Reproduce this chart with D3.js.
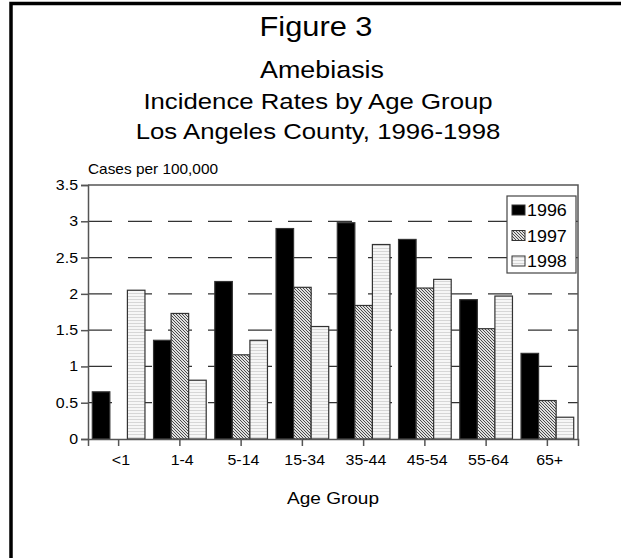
<!DOCTYPE html>
<html>
<head>
<meta charset="utf-8">
<script src="https://cdn.jsdelivr.net/npm/d3@7"></script>
<style>
  html, body { margin: 0; padding: 0; background: #fff; }
  svg { display: block; font-family: "Liberation Sans", Arial, sans-serif; }
</style>
</head>
<body>
<svg id="chart" width="621" height="558"></svg>
<script>
const categories = ["<1", "1-4", "5-14", "15-34", "35-44", "45-54", "55-64", "65+"];
const years = ["1996", "1997", "1998"];
const values1996 = [0.65, 1.36, 2.17, 2.90, 2.98, 2.75, 1.92, 1.18];
const values1997 = [0.00, 1.73, 1.16, 2.09, 1.84, 2.08, 1.52, 0.53];
const values1998 = [2.05, 0.81, 1.36, 1.55, 2.68, 2.20, 1.97, 0.30];
const yTicks = [0, 0.5, 1, 1.5, 2, 2.5, 3, 3.5];
const titleLines = ["Amebiasis", "Incidence Rates by Age Group", "Los Angeles County, 1996-1998"];

const series = [values1996, values1997, values1998];
const svg = d3.select("#chart");
const SX = 1.14; // horizontal text stretch seen in the reference

function label(x, y, txt, size, anchor, sx) {
  return svg.append("text")
    .attr("transform", `translate(${x},${y}) scale(${sx || SX},1)`)
    .attr("text-anchor", anchor || "start")
    .attr("font-size", size).attr("fill", "#000").text(txt);
}

// patterns
const defs = svg.append("defs");
const p1 = defs.append("pattern").attr("id", "hatch").attr("patternUnits", "userSpaceOnUse")
  .attr("width", 3).attr("height", 3);
p1.append("rect").attr("width", 3).attr("height", 3).attr("fill", "#e0e0e0");
p1.append("path").attr("d", "M-1,-1 L4,4 M-1,2 L1,4 M2,-1 L4,1").attr("stroke", "#3a3a3a").attr("stroke-width", 0.9);
const p2 = defs.append("pattern").attr("id", "hlines").attr("patternUnits", "userSpaceOnUse")
  .attr("width", 4).attr("height", 3);
p2.append("rect").attr("width", 4).attr("height", 3).attr("fill", "#f6f6f6");
p2.append("rect").attr("y", 2).attr("width", 4).attr("height", 1).attr("fill", "#d6d6d6");
const fills = ["#000", "url(#hatch)", "url(#hlines)"];

// outer border (top and left visible)
svg.append("rect").attr("x", 11).attr("y", 3.5).attr("width", 640).attr("height", 600)
  .attr("fill", "none").attr("stroke", "#000").attr("stroke-width", 3.5);

// titles
label(316, 36, "Figure 3", 28, "middle", 1.1);
const titleY = [78, 109, 139];
const titleSize = [24, 23, 23];
titleLines.forEach((t, i) => label(i === 0 ? 322 : 318, titleY[i], t, titleSize[i], "middle", 1.12));

const margin = {left: 88, right: 578, top: 185, bottom: 439};
const x0 = d3.scaleBand().domain(categories).range([margin.left, margin.right])
  .paddingInner(0.14).paddingOuter(0.07);
const x1 = d3.scaleBand().domain(years).range([0, x0.bandwidth()]);
const y = d3.scaleLinear().domain([0, 3.5]).range([margin.bottom, margin.top]);

// gridlines
svg.append("g").selectAll("line").data(yTicks.filter(t => t > 0 && t < 3.5)).join("line")
  .attr("x1", margin.left).attr("x2", margin.right)
  .attr("y1", d => y(d)).attr("y2", d => y(d))
  .attr("stroke", "#333").attr("stroke-width", 1.2).attr("stroke-dasharray", "24,16");

// frame top & right
svg.append("path").attr("d", `M${margin.left},${margin.top}H${margin.right}V${margin.bottom}`)
  .attr("fill", "none").attr("stroke", "#555").attr("stroke-width", 1.5);

// bars
const g = svg.append("g");
categories.forEach((c, i) => {
  years.forEach((yr, j) => {
    const v = series[j][i];
    if (v <= 0) return;
    g.append("rect")
      .attr("x", x0(c) + x1(yr)).attr("width", x1.bandwidth())
      .attr("y", y(v)).attr("height", y(0) - y(v))
      .attr("fill", fills[j]).attr("stroke", "#333").attr("stroke-width", 1.2);
  });
});

// axes
const yAxis = d3.axisLeft(y).tickValues(yTicks).tickFormat(d3.format("")).tickSizeOuter(0).tickSize(7).tickPadding(3);
const ya = svg.append("g").attr("transform", `translate(${margin.left},0)`).call(yAxis);
ya.selectAll("text").attr("font-size", 14).attr("fill", "#000")
  .attr("font-family", "Liberation Sans, Arial, sans-serif")
  .attr("x", -10 / SX).attr("transform", `scale(${SX},1)`);
ya.selectAll("line, path").attr("stroke", "#555").attr("stroke-width", 1.5);

const xAxis = d3.axisBottom(x0).tickSizeOuter(0).tickSize(7).tickPadding(9);
const xa = svg.append("g").attr("transform", `translate(0,${margin.bottom})`).call(xAxis);
xa.selectAll("text").attr("font-size", 14).attr("fill", "#000")
  .attr("font-family", "Liberation Sans, Arial, sans-serif")
  .attr("x", 2).attr("transform", `scale(${SX},1)`);
xa.selectAll("line, path").attr("stroke", "#555").attr("stroke-width", 1.5);

// axis titles
label(88, 174, "Cases per 100,000", 14, "start", 1.1);
label(333, 504, "Age Group", 17, "middle", 1.12);

// legend
const lg = svg.append("g");
lg.append("rect").attr("x", 507).attr("y", 196).attr("width", 69).attr("height", 77)
  .attr("fill", "#fff").attr("stroke", "#444").attr("stroke-width", 1.2);
years.forEach((yr, j) => {
  lg.append("rect").attr("x", 512).attr("y", 205 + j * 25.5).attr("width", 13).attr("height", 10)
    .attr("fill", fills[j]).attr("stroke", "#333").attr("stroke-width", 1);
  label(527, 216 + j * 25.5, yr, 16, "start", 1.12);
});
</script>
</body>
</html>
